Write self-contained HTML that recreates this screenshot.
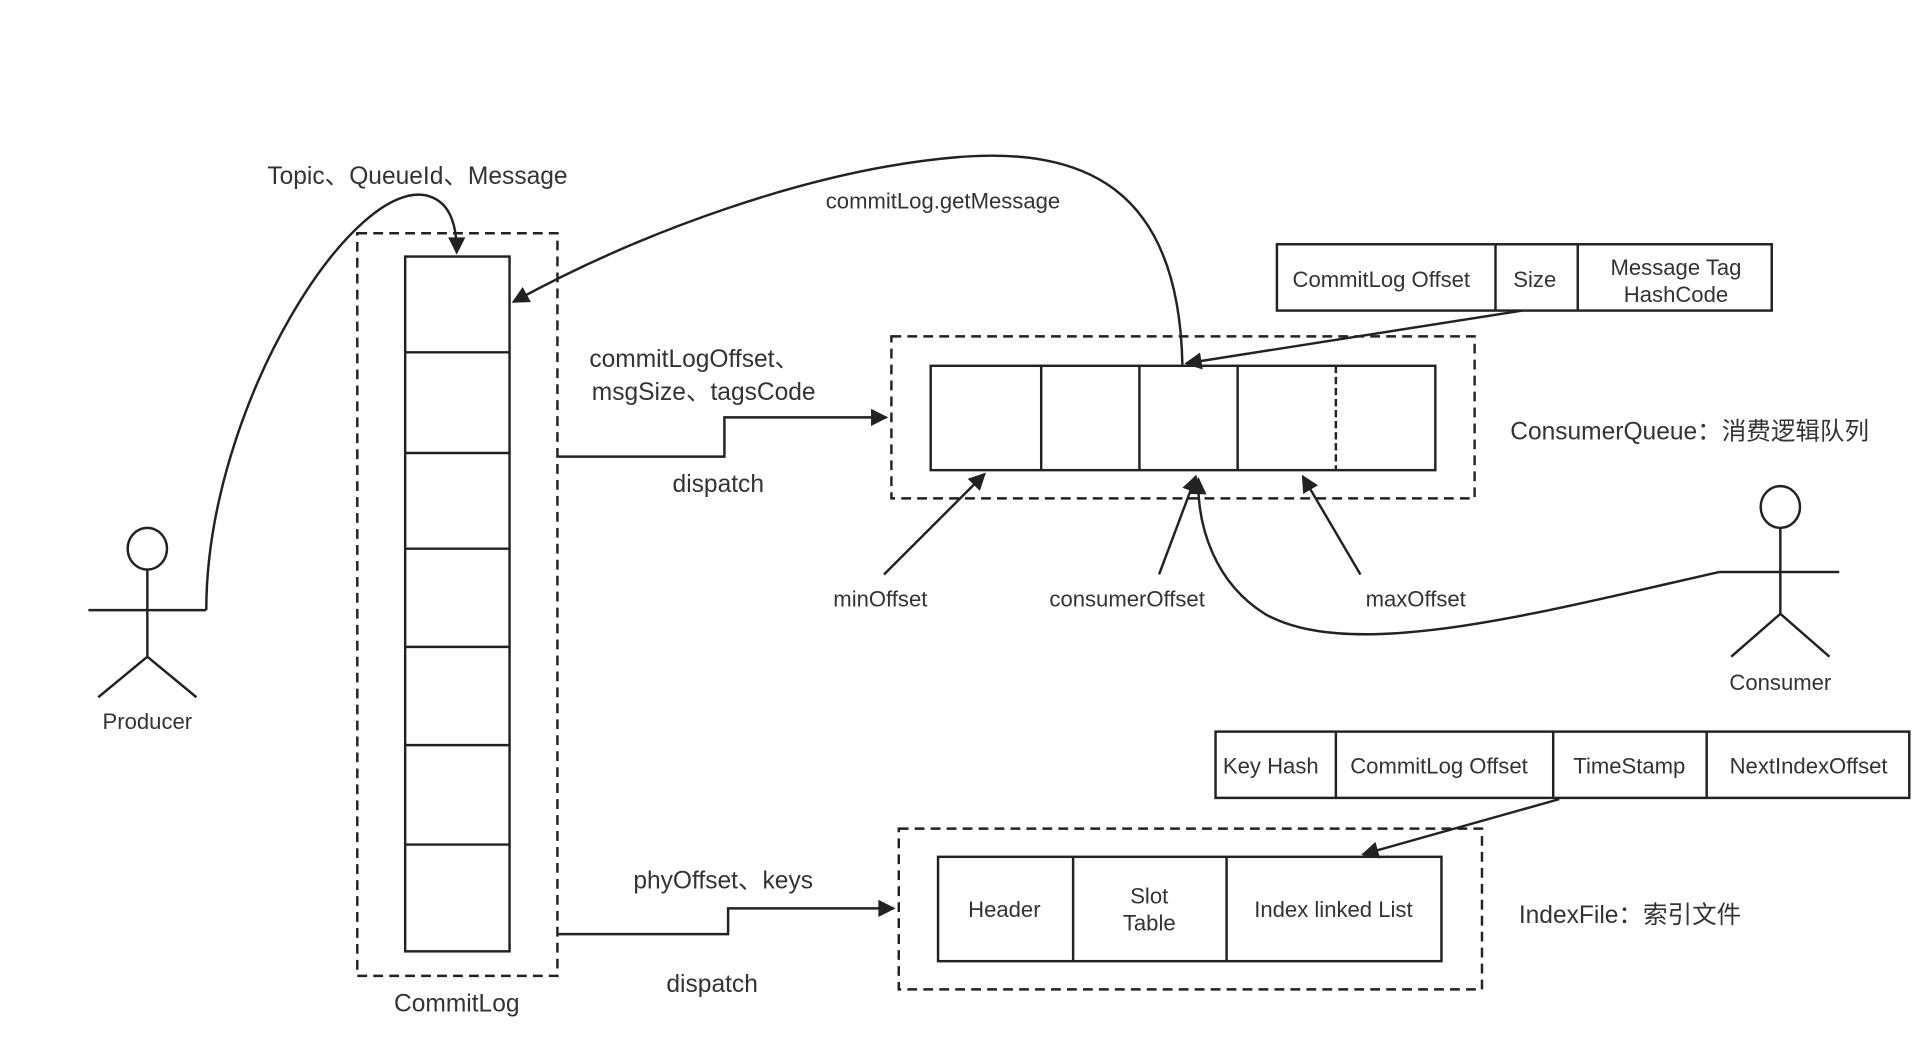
<!DOCTYPE html>
<html><head><meta charset="utf-8"><style>
html,body{margin:0;padding:0;background:#fff;}
svg{display:block;}
text{font-family:"Liberation Sans","Noto Sans CJK SC",sans-serif;fill:#333;}
</style></head><body>
<svg width="1924" height="1052" viewBox="0 0 1567 857" preserveAspectRatio="none" xmlns="http://www.w3.org/2000/svg">
<defs>
<marker id="b" viewBox="0 0 10 10" refX="9" refY="5" markerWidth="18" markerHeight="14" orient="auto" markerUnits="userSpaceOnUse"><path d="M0,0 L10,5 L0,10 Z" fill="#222"/></marker>
</defs>
<g stroke="#222" stroke-width="2" fill="none">
<rect x="291" y="190" width="163" height="605" stroke-dasharray="8,5"/>
<rect x="330" y="209" width="85" height="566"/>
<path d="M330,287H415M330,369H415M330,447H415M330,527H415M330,607H415M330,688H415"/>
<ellipse cx="120" cy="447" rx="16" ry="17"/>
<path d="M120,464V535M72,497H168M80,568L120,535L160,568"/>
<path d="M168,497 C168,330 290,140 350,160 C365,165 372,180 372,206" marker-end="url(#b)"/>
<path d="M963,297 C960,150 880,120 780,128 C660,138 520,190 418,246" marker-end="url(#b)"/>
<rect x="1040" y="199" width="403" height="54"/>
<path d="M1218,199V253M1285,199V253"/>
<path d="M1240,253 L966,296" marker-end="url(#b)"/>
<rect x="726" y="274" width="475" height="132" stroke-dasharray="8,5"/>
<rect x="758" y="298" width="411" height="85"/>
<path d="M848,298V383M928,298V383M1008,298V383"/>
<path d="M1088,298V383" stroke-dasharray="6,3"/>
<path d="M455,372H590V340H722" marker-end="url(#b)"/>
<path d="M720,468L802,386" marker-end="url(#b)"/>
<path d="M944,468L974,388" marker-end="url(#b)"/>
<path d="M1108,468L1061,388" marker-end="url(#b)"/>
<path d="M1400,466 C1250,500 1100,540 1030,500 C990,475 975,430 976,390" marker-end="url(#b)"/>
<ellipse cx="1450" cy="413" rx="16" ry="17"/>
<path d="M1450,430V500M1400,466H1498M1410,535L1450,500L1490,535"/>
<rect x="990" y="596" width="565" height="54"/>
<path d="M1088,596V650M1265,596V650M1390,596V650"/>
<path d="M1270,651L1110,696" marker-end="url(#b)"/>
<rect x="732" y="675" width="475" height="131" stroke-dasharray="8,5"/>
<rect x="764" y="698" width="410" height="85"/>
<path d="M874,698V783M999,698V783"/>
<path d="M455,761H593V740H728" marker-end="url(#b)"/>
</g>
<g font-size="20">
<text x="340" y="150" text-anchor="middle">Topic、QueueId、Message</text>
<text x="480" y="299">commitLogOffset、</text>
<text x="482" y="326">msgSize、tagsCode</text>
<text x="585" y="401" text-anchor="middle">dispatch</text>
<text x="1230" y="358">ConsumerQueue：消费逻辑队列</text>
<text x="589" y="724" text-anchor="middle">phyOffset、keys</text>
<text x="580" y="808" text-anchor="middle">dispatch</text>
<text x="1237" y="752">IndexFile：索引文件</text>
<text x="372" y="824" text-anchor="middle">CommitLog</text>
</g>
<g font-size="18" text-anchor="middle">
<text x="768" y="170">commitLog.getMessage</text>
<text x="1125" y="234">CommitLog Offset</text>
<text x="1250" y="234">Size</text>
<text x="1365" y="224">Message Tag</text>
<text x="1365" y="246">HashCode</text>
<text x="717" y="494">minOffset</text>
<text x="918" y="494">consumerOffset</text>
<text x="1153" y="494">maxOffset</text>
<text x="1450" y="562">Consumer</text>
<text x="120" y="594">Producer</text>
<text x="1035" y="630">Key Hash</text>
<text x="1172" y="630">CommitLog Offset</text>
<text x="1327" y="630">TimeStamp</text>
<text x="1473" y="630">NextIndexOffset</text>
<text x="818" y="747">Header</text>
<text x="936" y="736">Slot</text>
<text x="936" y="758">Table</text>
<text x="1086" y="747">Index linked List</text>
</g>
</svg>
</body></html>
